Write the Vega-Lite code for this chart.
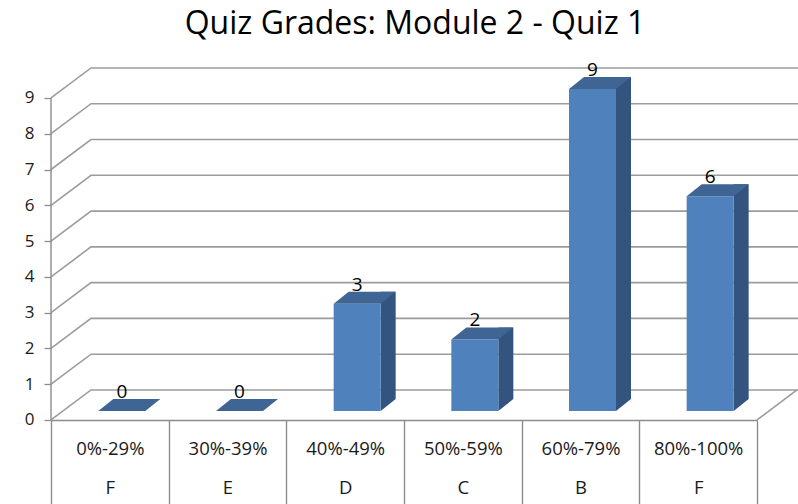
{"$schema":"https://vega.github.io/schema/vega-lite/v6.json","width":798,"height":454,"autosize":"none","padding":{"left":0,"top":50,"right":0,"bottom":0},"background":"white","title":{"text":"Quiz Grades: Module 2 - Quiz 1","font":"Open Sans","fontSize":32,"fontWeight":"normal","color":"#000000","anchor":"middle","frame":"group","dx":16,"offset":9},"config":{"view":{"stroke":null},"font":"Open Sans"},"data":{"values":[{"range":"0%-29%","grade":"F","count":0},{"range":"30%-39%","grade":"E","count":0},{"range":"40%-49%","grade":"D","count":3},{"range":"50%-59%","grade":"C","count":2},{"range":"60%-79%","grade":"B","count":9},{"range":"80%-100%","grade":"F","count":6}]},"encoding":{"x":{"field":"range","type":"nominal","sort":null,"title":null,"scale":{"domain":["0%-29%","30%-39%","40%-49%","50%-59%","60%-79%","80%-100%"],"range":[51,757],"paddingInner":0,"paddingOuter":0},"axis":{"orient":"bottom","offset":-84,"tickSize":84,"tickBand":"extent","tickColor":"#8c8c8c","tickWidth":1.4,"domainColor":"#8c8c8c","domainWidth":1.6,"labelAngle":0,"labelFont":"Open Sans","labelFontSize":18.5,"labelColor":"#1a1a1a","labelPadding":-65,"labelLineHeight":39,"labelExpr":"[datum.label, {'0%-29%':'F','30%-39%':'E','40%-49%':'D','50%-59%':'C','60%-79%':'B','80%-100%':'F'}[datum.label]]"}},"y":{"field":"count","type":"quantitative","title":null,"scale":{"domain":[-2.348,10.34],"nice":false,"zero":false},"axis":{"orient":"left","offset":-51,"values":[0,1,2,3,4,5,6,7,8,9],"grid":false,"domain":false,"tickSize":7,"tickColor":"#8c8c8c","tickWidth":1.3,"labelFont":"Open Sans","labelFontSize":17,"labelColor":"#1a1a1a","labelPadding":10}}},"layer":[{"data":{"values":[{"level":0},{"level":1},{"level":2},{"level":3},{"level":4},{"level":5},{"level":6},{"level":7},{"level":8},{"level":9}]},"mark":{"type":"point","shape":"M0 0L0.4 -0.3L7.6 -0.3","size":40000,"filled":false,"stroke":"#9c9c9c","strokeWidth":1.6,"opacity":1},"encoding":{"x":{"datum":"0%-29%","type":"nominal","bandPosition":0},"y":{"field":"level","type":"quantitative"}}},{"data":{"values":[{"end":0}]},"mark":{"type":"point","shape":"M0 0L0.4 -0.3","size":40000,"filled":false,"stroke":"#9c9c9c","strokeWidth":1.6,"opacity":1},"encoding":{"x":{"datum":"80%-100%","type":"nominal","bandPosition":1},"y":{"field":"end","type":"quantitative"}}},{"data":{"values":[{"low":0,"high":9}]},"mark":{"type":"rule","stroke":"#8c8c8c","strokeWidth":1.4},"encoding":{"x":{"datum":"0%-29%","type":"nominal","bandPosition":0},"y":{"field":"high","type":"quantitative"},"y2":{"field":"low"}}},{"transform":[{"filter":"datum.count > 0"}],"mark":{"type":"bar","size":15,"xOffset":43,"yOffset":-21,"y2Offset":-21,"color":"#33547f"},"encoding":{"y2":{"datum":0}}},{"transform":[{"filter":"datum.count > 0"}],"mark":{"type":"point","shape":"M0.355 -0.09L0.355 -0.21L0.505 -0.21Z","size":40000,"filled":true,"color":"#33547f","strokeWidth":0,"opacity":1},"encoding":{"y":{"datum":0}}},{"mark":{"type":"bar","size":47,"xOffset":12,"yOffset":-9,"y2Offset":-9,"color":"#4f81bd"},"encoding":{"y2":{"datum":0}}},{"mark":{"type":"point","shape":"M-0.115 -0.09L0.355 -0.09L0.505 -0.21L0.035 -0.21Z","size":40000,"filled":true,"color":"#3e6594","strokeWidth":0,"opacity":1}},{"mark":{"type":"text","font":"Open Sans","fontSize":19,"color":"#000000","xOffset":12,"yOffset":-28,"baseline":"middle"},"encoding":{"text":{"field":"count","type":"quantitative"}}}]}
